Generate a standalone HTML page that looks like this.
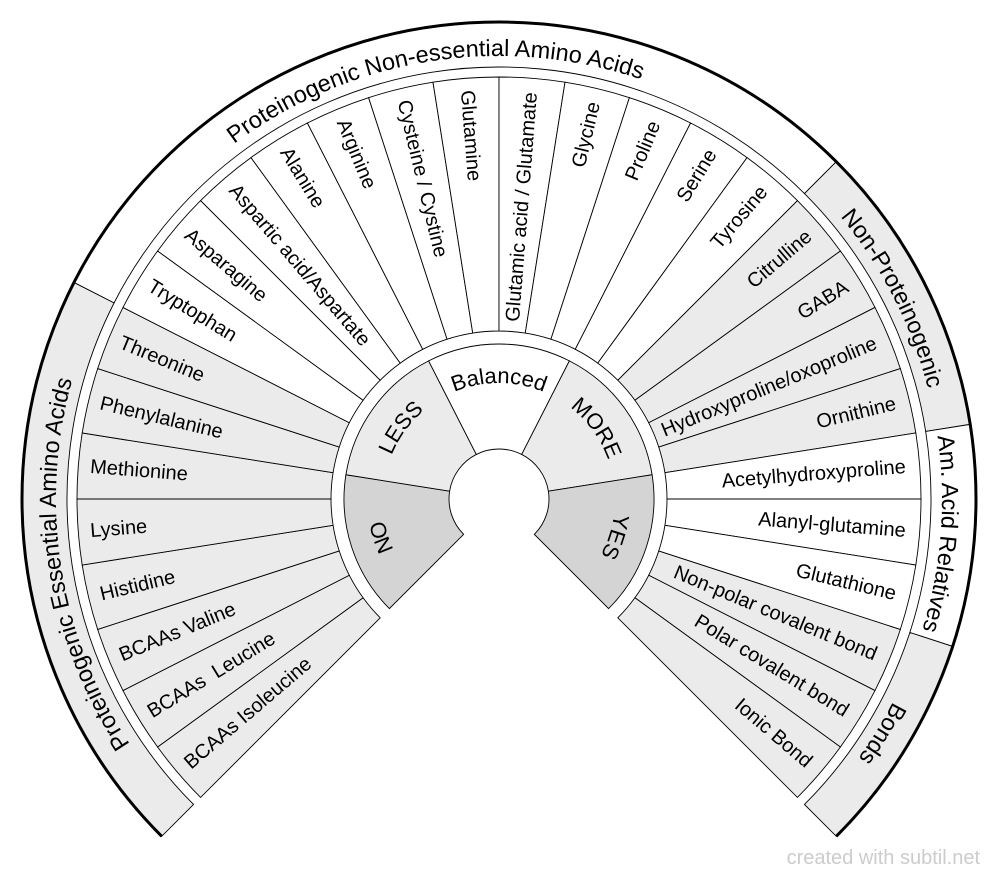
<!DOCTYPE html>
<html><head><meta charset="utf-8"><style>
html,body{margin:0;padding:0;background:#fff;}
svg{display:block;font-family:"Liberation Sans",sans-serif;}
</style></head><body>
<svg width="1000" height="878" viewBox="0 0 1000 878" xmlns="http://www.w3.org/2000/svg">
<defs>
<path id="w" d="M-13.181,-167.482 L-33.110,-420.699 A422,422 0 0 1 33.110,-420.699 L13.181,-167.482 A168,168 0 0 0 -13.181,-167.482 Z"/>
<path id="iw" d="M-22.700,-44.550 L-70.370,-138.107 A155,155 0 0 1 70.370,-138.107 L22.700,-44.550 A50,50 0 0 0 -22.700,-44.550 Z"/>
<path id="g1" d="M-313.25,313.25 A443,443 0 0 1 -394.72,-201.12"/>
<path id="g2" d="M-394.72,-201.12 A443,443 0 0 1 313.25,-313.25"/>
<path id="g3" d="M313.25,-313.25 A443,443 0 0 1 437.55,-69.30"/>
<path id="g4" d="M437.55,-69.30 A443,443 0 0 1 421.32,136.89"/>
<path id="g5" d="M421.32,136.89 A443,443 0 0 1 313.25,313.25"/>
<path id="i1" d="M-114.57,-18.15 A116,116 0 0 1 -52.66,-103.36"/>
<path id="i2" d="M-52.66,-103.36 A116,116 0 0 1 52.66,-103.36"/>
<path id="i3" d="M52.66,-103.36 A116,116 0 0 1 114.57,-18.15"/>
<path id="i4" d="M114.57,-18.15 A116,116 0 0 1 82.02,82.02"/>
<path id="i5" d="M-130.37,-20.65 A132,132 0 0 0 -93.34,93.34"/>
</defs>
<g transform="translate(499,499)" stroke="#000" stroke-width="0.9">
<path fill="#ebebeb" d="M-305.47,305.47 L-337.29,337.29 A477,477 0 0 1 -425.01,-216.55 L-384.91,-196.12 A432,432 0 0 0 -305.47,305.47 Z"/>
<path fill="#fff" d="M-384.91,-196.12 L-425.01,-216.55 A477,477 0 0 1 337.29,-337.29 L305.47,-305.47 A432,432 0 0 0 -384.91,-196.12 Z"/>
<path fill="#ebebeb" d="M305.47,-305.47 L337.29,-337.29 A477,477 0 0 1 471.13,-74.62 L426.68,-67.58 A432,432 0 0 0 305.47,-305.47 Z"/>
<path fill="#fff" d="M426.68,-67.58 L471.13,-74.62 A477,477 0 0 1 453.66,147.40 L410.86,133.50 A432,432 0 0 0 426.68,-67.58 Z"/>
<path fill="#ebebeb" d="M410.86,133.50 L453.66,147.40 A477,477 0 0 1 337.29,337.29 L305.47,305.47 A432,432 0 0 0 410.86,133.50 Z"/>
<path fill="none" stroke-width="3" d="M-337.29,337.29 A477,477 0 1 1 337.29,337.29"/>
<g fill="#ebebeb">
<use href="#w" transform="rotate(-130.5)"/><use href="#w" transform="rotate(-121.5)"/><use href="#w" transform="rotate(-112.5)"/><use href="#w" transform="rotate(-103.5)"/><use href="#w" transform="rotate(-94.5)"/><use href="#w" transform="rotate(-85.5)"/><use href="#w" transform="rotate(-76.5)"/><use href="#w" transform="rotate(-67.5)"/>
<use href="#w" transform="rotate(49.5)"/><use href="#w" transform="rotate(58.5)"/><use href="#w" transform="rotate(67.5)"/><use href="#w" transform="rotate(76.5)"/>
<use href="#w" transform="rotate(112.5)"/><use href="#w" transform="rotate(121.5)"/><use href="#w" transform="rotate(130.5)"/>
</g>
<g fill="#fff">
<use href="#w" transform="rotate(-58.5)"/><use href="#w" transform="rotate(-49.5)"/><use href="#w" transform="rotate(-40.5)"/><use href="#w" transform="rotate(-31.5)"/><use href="#w" transform="rotate(-22.5)"/><use href="#w" transform="rotate(-13.5)"/><use href="#w" transform="rotate(-4.5)"/><use href="#w" transform="rotate(4.5)"/><use href="#w" transform="rotate(13.5)"/><use href="#w" transform="rotate(22.5)"/><use href="#w" transform="rotate(31.5)"/><use href="#w" transform="rotate(40.5)"/>
<use href="#w" transform="rotate(85.5)"/><use href="#w" transform="rotate(94.5)"/><use href="#w" transform="rotate(103.5)"/>
</g>
<use href="#iw" transform="rotate(-108)" fill="#d4d4d4"/>
<use href="#iw" transform="rotate(-54)" fill="#ebebeb"/>
<use href="#iw" transform="rotate(0)" fill="#fff"/>
<use href="#iw" transform="rotate(54)" fill="#ebebeb"/>
<use href="#iw" transform="rotate(108)" fill="#d4d4d4"/>
</g>
<g transform="translate(499,499)" font-size="20" fill="#000" dominant-baseline="central">
<g text-anchor="start">
<text transform="rotate(-40.5)" x="-410">BCAAs Isoleucine</text>
<text transform="rotate(-31.5)" x="-410" xml:space="preserve">BCAAs  Leucine</text>
<text transform="rotate(-22.5)" x="-410">BCAAs Valine</text>
<text transform="rotate(-13.5)" x="-410">Histidine</text>
<text transform="rotate(-4.5)" x="-410">Lysine</text>
<text transform="rotate(4.5)" x="-410">Methionine</text>
<text transform="rotate(13.5)" x="-410">Phenylalanine</text>
<text transform="rotate(22.5)" x="-410">Threonine</text>
<text transform="rotate(31.5)" x="-410">Tryptophan</text>
<text transform="rotate(40.5)" x="-410">Asparagine</text>
<text transform="rotate(49.5)" x="-410">Aspartic acid/Aspartate</text>
<text transform="rotate(58.5)" x="-410">Alanine</text>
<text transform="rotate(67.5)" x="-410">Arginine</text>
<text transform="rotate(76.5)" x="-410">Cysteine / Cystine</text>
<text transform="rotate(85.5)" x="-410">Glutamine</text>
</g>
<g text-anchor="end">
<text transform="rotate(-85.5)" x="408">Glutamic acid / Glutamate</text>
<text transform="rotate(-76.5)" x="408">Glycine</text>
<text transform="rotate(-67.5)" x="408">Proline</text>
<text transform="rotate(-58.5)" x="408">Serine</text>
<text transform="rotate(-49.5)" x="408">Tyrosine</text>
<text transform="rotate(-40.5)" x="408">Citrulline</text>
<text transform="rotate(-31.5)" x="408">GABA</text>
<text transform="rotate(-22.5)" x="408">Hydroxyproline/oxoproline</text>
<text transform="rotate(-13.5)" x="408">Ornithine</text>
<text transform="rotate(-4.5)" x="408">Acetylhydroxyproline</text>
<text transform="rotate(4.5)" x="408">Alanyl-glutamine</text>
<text transform="rotate(13.5)" x="408">Glutathione</text>
<text transform="rotate(22.5)" x="408">Non-polar covalent bond</text>
<text transform="rotate(31.5)" x="408">Polar covalent bond</text>
<text transform="rotate(40.5)" x="408">Ionic Bond</text>
</g>
</g>
<g transform="translate(499,499)" font-size="23.5" fill="#000" text-anchor="middle">
<text><textPath href="#g1" startOffset="50%">Proteinogenic Essential Amino Acids</textPath></text>
<text><textPath href="#g2" startOffset="50%">Proteinogenic Non-essential Amino Acids</textPath></text>
<text><textPath href="#g3" startOffset="50%">Non-Proteinogenic</textPath></text>
<text><textPath href="#g4" startOffset="50%">Am. Acid Relatives</textPath></text>
<text><textPath href="#g5" startOffset="50%">Bonds</textPath></text>
</g>
<g transform="translate(499,499)" font-size="22" fill="#000" text-anchor="middle">
<text><textPath href="#i1" startOffset="50%">LESS</textPath></text>
<text><textPath href="#i2" startOffset="50%">Balanced</textPath></text>
<text><textPath href="#i3" startOffset="50%">MORE</textPath></text>
<text><textPath href="#i4" startOffset="50%">YES</textPath></text>
<text><textPath href="#i5" startOffset="50%">ON</textPath></text>
</g>
<text x="980" y="864" font-size="20" fill="#cccccc" text-anchor="end">created with subtil.net</text>
</svg>
</body></html>
